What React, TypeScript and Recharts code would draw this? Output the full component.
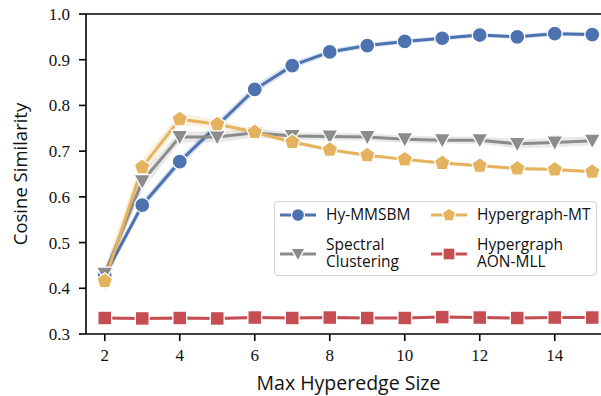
import React from "react";
import {
  ComposedChart,
  Line,
  Area,
  XAxis,
  YAxis,
  ReferenceLine,
} from "recharts";

const sizes = [2, 3, 4, 5, 6, 7, 8, 9, 10, 11, 12, 13, 14, 15];

const hyMmsbm = [0.428, 0.582, 0.677, 0.756, 0.835, 0.887, 0.917, 0.931, 0.940, 0.947, 0.954, 0.950, 0.957, 0.955];
const spectral = [0.432, 0.634, 0.731, 0.731, 0.740, 0.733, 0.732, 0.731, 0.726, 0.724, 0.724, 0.716, 0.719, 0.723];
const hyperMt = [0.416, 0.665, 0.770, 0.759, 0.742, 0.720, 0.703, 0.691, 0.682, 0.674, 0.668, 0.662, 0.660, 0.655];
const aonMll = [0.335, 0.334, 0.335, 0.334, 0.336, 0.335, 0.336, 0.335, 0.335, 0.337, 0.336, 0.335, 0.336, 0.336];

// half-width of the shaded bands
const hyMmsbmSpread = [0.01, 0.01, 0.01, 0.01, 0.01, 0.008, 0.006, 0.006, 0.005, 0.005, 0.005, 0.005, 0.005, 0.005];
const spectralSpread = [0.01, 0.02, 0.012, 0.012, 0.01, 0.008, 0.008, 0.008, 0.008, 0.008, 0.008, 0.01, 0.01, 0.01];
const hyperMtSpread = [0.03, 0.02, 0.012, 0.01, 0.006, 0.005, 0.004, 0.004, 0.004, 0.004, 0.004, 0.004, 0.004, 0.004];
const aonMllSpread = [0.003, 0.003, 0.003, 0.003, 0.003, 0.003, 0.003, 0.003, 0.003, 0.003, 0.003, 0.003, 0.003, 0.003];

const xTicks = [2, 4, 6, 8, 10, 12, 14];
const yTicks = [0.3, 0.4, 0.5, 0.6, 0.7, 0.8, 0.9, 1.0];

const BLUE = "#4c72b0";
const GREY = "#8c8c8c";
const ORANGE = "#e5b25e";
const RED = "#c44e52";

const data = sizes.map((s, i) => ({
  size: s,
  blue: hyMmsbm[i],
  grey: spectral[i],
  orange: hyperMt[i],
  red: aonMll[i],
  blueBand: [hyMmsbm[i] - hyMmsbmSpread[i], hyMmsbm[i] + hyMmsbmSpread[i]],
  greyBand: [spectral[i] - spectralSpread[i], spectral[i] + spectralSpread[i]],
  orangeBand: [hyperMt[i] - hyperMtSpread[i], hyperMt[i] + hyperMtSpread[i]],
  redBand: [aonMll[i] - aonMllSpread[i], aonMll[i] + aonMllSpread[i]],
}));

type Shape = "circle" | "tri" | "pent" | "square";

function Marker({ shape, cx, cy, color, r }: { shape: Shape; cx: number; cy: number; color: string; r: number }) {
  const common = { fill: color, stroke: "#fff", strokeWidth: 1.3 };
  if (shape === "circle") return <circle cx={cx} cy={cy} r={r} {...common} />;
  if (shape === "square") {
    const h = r * 0.92;
    return <rect x={cx - h} y={cy - h} width={2 * h} height={2 * h} {...common} />;
  }
  if (shape === "tri") {
    const h = r * 1.1;
    const pts = `${cx - h},${cy - h * 0.8} ${cx + h},${cy - h * 0.8} ${cx},${cy + h * 1.0}`;
    return <polygon points={pts} {...common} />;
  }
  const pts: string[] = [];
  for (let k = 0; k < 5; k++) {
    const a = -Math.PI / 2 + (k * 2 * Math.PI) / 5;
    pts.push(`${cx + r * 1.1 * Math.cos(a)},${cy + r * 1.1 * Math.sin(a)}`);
  }
  return <polygon points={pts.join(" ")} {...common} />;
}

const makeDot = (shape: Shape, color: string) => (props: any) => {
  const { cx, cy, index } = props;
  if (cx == null || cy == null) return <g key={index} />;
  return (
    <g key={`${shape}-${index}`}>
      <Marker shape={shape} cx={cx} cy={cy} color={color} r={7.5} />
    </g>
  );
};

const legendItems: { label: string; lines: number; color: string; shape: Shape; col: number; row: number }[] = [
  { label: "Hy-MMSBM", lines: 1, color: BLUE, shape: "circle", col: 0, row: 0 },
  { label: "Hypergraph-MT", lines: 1, color: ORANGE, shape: "pent", col: 1, row: 0 },
  { label: "Spectral\nClustering", lines: 2, color: GREY, shape: "tri", col: 0, row: 1 },
  { label: "Hypergraph\nAON-MLL", lines: 2, color: RED, shape: "square", col: 1, row: 1 },
];

const labelFont = "'Open Sans', Lato, sans-serif";
const LEG_LINE = 17;

function LegendBox() {
  const colX = [280, 431];
  const rowY = [215, 254];
  return (
    <>
      <div
        style={{
          position: "absolute",
          left: 274,
          top: 201,
          width: 321,
          height: 73,
          border: "1.5px solid #d4d4d4",
          borderRadius: 4,
          background: "rgba(255,255,255,0.85)",
        }}
      />
      {legendItems.map((it) => {
        const x = colX[it.col];
        const y = rowY[it.row];
        return (
          <React.Fragment key={it.label}>
            <svg width={38} height={20} style={{ position: "absolute", left: x - 1, top: y - 10 }}>
              <line x1={1} y1={10} x2={37} y2={10} stroke={it.color} strokeWidth={3} />
              <Marker shape={it.shape} cx={19} cy={10} color={it.color} r={6.5} />
            </svg>
            <div
              style={{
                position: "absolute",
                left: x + 46,
                top: y - (it.lines * LEG_LINE) / 2 - 1,
                fontFamily: labelFont,
                fontSize: 15.5,
                lineHeight: `${LEG_LINE}px`,
                color: "#111",
                whiteSpace: "pre",
              }}
            >
              {it.label}
            </div>
          </React.Fragment>
        );
      })}
    </>
  );
}

const axisTick = { fill: "#111", fontSize: 17, fontFamily: "'Liberation Serif', 'DejaVu Serif', serif" };

export default function App() {
  return (
    <div style={{ position: "absolute", left: 0, top: 0, width: 601, height: 396, overflow: "hidden", background: "#fff" }}>
      <ComposedChart width={620} height={396} data={data} margin={{ top: 14, right: 9, left: 0, bottom: 0 }}>
        <XAxis
          dataKey="size"
          type="number"
          domain={[1.5, 15.5]}
          ticks={xTicks}
          allowDataOverflow
          tick={axisTick}
          tickSize={7}
          tickMargin={8}
          axisLine={{ stroke: "#000", strokeWidth: 1.6 }}
          tickLine={{ stroke: "#000", strokeWidth: 1.6 }}
          height={62}
          label={{ value: "Max Hyperedge Size", position: "insideBottom", offset: 6, fill: "#111", fontSize: 19.5, fontFamily: labelFont }}
        />
        <YAxis
          type="number"
          domain={[0.3, 1.0]}
          ticks={yTicks}
          allowDataOverflow
          tickFormatter={(v: number) => v.toFixed(1)}
          tick={axisTick}
          tickSize={7}
          tickMargin={9}
          axisLine={{ stroke: "#000", strokeWidth: 1.6 }}
          tickLine={{ stroke: "#000", strokeWidth: 1.6 }}
          width={86}
          label={{ value: "Cosine Similarity", angle: -90, position: "insideLeft", offset: 20, style: { textAnchor: "middle" }, fill: "#111", fontSize: 18.5, fontFamily: labelFont }}
        />
        <ReferenceLine y={1} stroke="#000" strokeWidth={1.6} />
        <Area dataKey="blueBand" stroke="none" fill={BLUE} fillOpacity={0.2} isAnimationActive={false} activeDot={false} />
        <Area dataKey="greyBand" stroke="none" fill={GREY} fillOpacity={0.2} isAnimationActive={false} activeDot={false} />
        <Area dataKey="orangeBand" stroke="none" fill={ORANGE} fillOpacity={0.2} isAnimationActive={false} activeDot={false} />
        <Area dataKey="redBand" stroke="none" fill={RED} fillOpacity={0.2} isAnimationActive={false} activeDot={false} />
        <Line dataKey="blue" stroke={BLUE} strokeWidth={3} dot={makeDot("circle", BLUE)} activeDot={false} isAnimationActive={false} />
        <Line dataKey="grey" stroke={GREY} strokeWidth={3} dot={makeDot("tri", GREY)} activeDot={false} isAnimationActive={false} />
        <Line dataKey="orange" stroke={ORANGE} strokeWidth={3} dot={makeDot("pent", ORANGE)} activeDot={false} isAnimationActive={false} />
        <Line dataKey="red" stroke={RED} strokeWidth={3} dot={makeDot("square", RED)} activeDot={false} isAnimationActive={false} />
      </ComposedChart>
      <LegendBox />
    </div>
  );
}
